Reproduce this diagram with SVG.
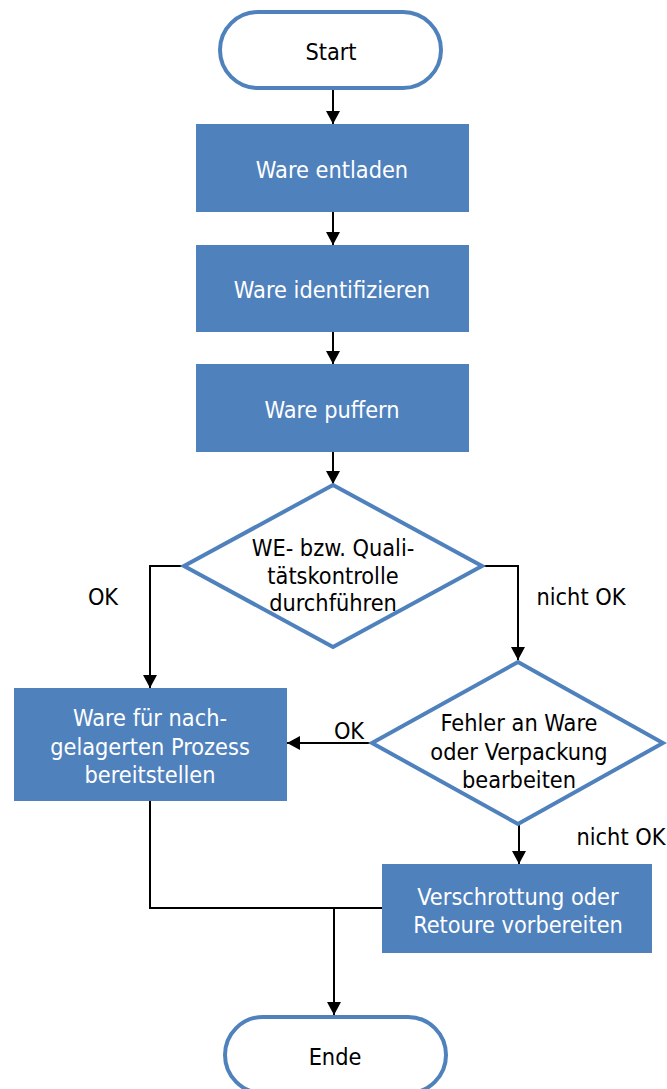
<svg xmlns="http://www.w3.org/2000/svg" width="667" height="1089" viewBox="0 0 667 1089">
  <defs>
    <marker id="arrow" markerWidth="12" markerHeight="14" refX="13" refY="7" orient="auto" markerUnits="userSpaceOnUse">
      <path d="M0,0 L13,7 L0,14 Z" fill="#000"/>
    </marker>
    <style>
      .term { fill: #fff; stroke: #4F81BD; stroke-width: 4; }
      .proc { fill: #4F81BD; }
      .dec { fill: #fff; stroke: #4F81BD; stroke-width: 4; stroke-linejoin: miter; }
      .t { font-family: "DejaVu Sans Condensed", "Liberation Sans", sans-serif; font-size: 23.3px; text-anchor: middle; dominant-baseline: central; fill: #000; }
      .w { fill: #fff; }
      .edge { fill: none; stroke: #000; stroke-width: 2; }
    </style>
  </defs>
  <rect width="667" height="1089" fill="#fff"/>

  <g id="connectors">
    <path class="edge" d="M333,90 V124" marker-end="url(#arrow)"/>
    <path class="edge" d="M333,212 V245" marker-end="url(#arrow)"/>
    <path class="edge" d="M333,332 V364" marker-end="url(#arrow)"/>
    <path class="edge" d="M333,452 V484" marker-end="url(#arrow)"/>
    <path class="edge" d="M183,566 H150 V688" marker-end="url(#arrow)"/>
    <path class="edge" d="M483,566 H518 V660" marker-end="url(#arrow)"/>
    <path class="edge" d="M370,743 H287" marker-end="url(#arrow)"/>
    <path class="edge" d="M519,825 V864" marker-end="url(#arrow)"/>
    <path class="edge" d="M150,801 V908 H382"/>
    <path class="edge" d="M334,908 V1015" marker-end="url(#arrow)"/>
    <text class="t" x="103" y="596">OK</text>
    <text class="t" x="581" y="596">nicht OK</text>
    <text class="t" x="349" y="730">OK</text>
    <text class="t" x="621" y="836">nicht OK</text>
  </g>

  <g id="start">
    <rect class="term" x="220" y="12" width="221" height="76" rx="38"/>
    <text class="t" x="331" y="51">Start</text>
  </g>

  <g id="entladen">
    <rect class="proc" x="196" y="124" width="273" height="88"/>
    <text class="t w" x="332" y="169">Ware entladen</text>
  </g>

  <g id="identifizieren">
    <rect class="proc" x="196" y="245" width="273" height="87"/>
    <text class="t w" x="332" y="289">Ware identifizieren</text>
  </g>

  <g id="puffern">
    <rect class="proc" x="196" y="364" width="273" height="88"/>
    <text class="t w" x="332" y="409">Ware puffern</text>
  </g>

  <g id="kontrolle">
    <path class="dec" d="M333,485 L482,566 L333,647 L184,566 Z"/>
    <text class="t" x="333" y="547">WE- bzw. Quali-</text>
    <text class="t" x="333" y="575">tätskontrolle</text>
    <text class="t" x="333" y="602">durchführen</text>
  </g>

  <g id="bereitstellen">
    <rect class="proc" x="14" y="688" width="273" height="113"/>
    <text class="t w" x="150" y="717">Ware für nach-</text>
    <text class="t w" x="150" y="746">gelagerten Prozess</text>
    <text class="t w" x="150" y="774">bereitstellen</text>
  </g>

  <g id="fehler">
    <path class="dec" d="M518,662 L663,743 L518,824 L372,743 Z"/>
    <text class="t" x="519" y="722">Fehler an Ware</text>
    <text class="t" x="519" y="751">oder Verpackung</text>
    <text class="t" x="519" y="779">bearbeiten</text>
  </g>

  <g id="verschrottung">
    <rect class="proc" x="382" y="864" width="270" height="89"/>
    <text class="t w" x="518" y="896">Verschrottung oder</text>
    <text class="t w" x="518" y="924">Retoure vorbereiten</text>
  </g>

  <g id="ende">
    <rect class="term" x="225" y="1017" width="221" height="76" rx="38"/>
    <text class="t" x="335" y="1056">Ende</text>
  </g>
</svg>
